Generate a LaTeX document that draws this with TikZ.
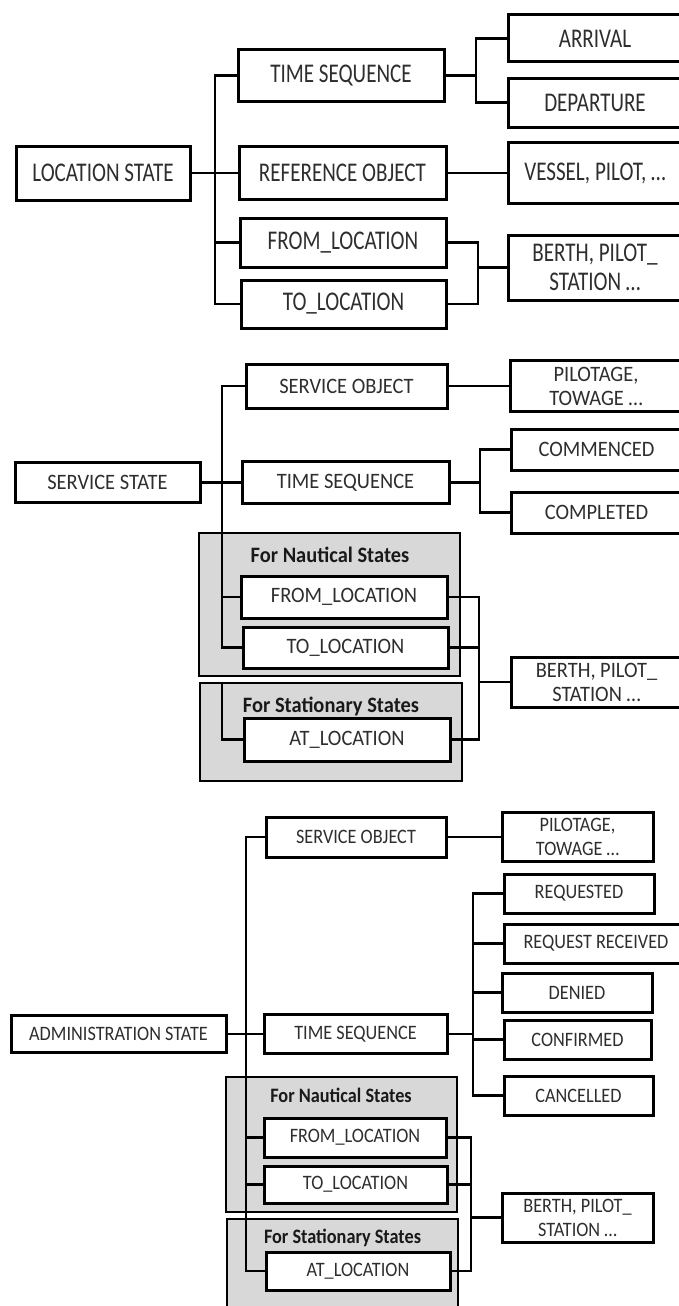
\documentclass[tikz,border=0pt]{standalone}
\usepackage{fontspec}
\newfontfamily\fonta[FakeStretch=0.78]{Carlito}
\newfontfamily\fontb[FakeStretch=0.93]{Carlito}
\newfontfamily\fontc[FakeStretch=0.89]{Carlito}
\definecolor{txt}{HTML}{2E2E2E}
\definecolor{grp}{HTML}{D8D8D8}
\pgfdeclarelayer{back}
\pgfdeclarelayer{mid}
\pgfsetlayers{back,mid,main}
\tikzset{
  box/.style={draw=black, fill=white, line width=3pt, inner sep=0pt, text=txt, align=center},
  grpbox/.style={draw=black, fill=grp, line width=2.6pt, inner sep=0pt},
  link/.style={draw=black, line width=2.8pt, line join=miter},
  secA/.style={font=\fonta\fontsize{27}{29}\selectfont},
  secB/.style={font=\fontb\fontsize{22}{24}\selectfont},
  secC/.style={font=\fontc\fontsize{20.5}{24}\selectfont},
  grptitle/.style={inner sep=0pt, text=black!90}
}
\begin{document}
\begin{tikzpicture}[x=1pt, y=-1pt]
\useasboundingbox (0,0) rectangle (678,1306);

% ---------------- Location state ----------------
\node[box, secA, minimum width=174pt, minimum height=54pt] (ls)  at (103,173)   {LOCATION STATE};
\node[box, secA, minimum width=206pt, minimum height=51pt] (ts1) at (341,75.5)  {TIME SEQUENCE};
\node[box, secA, minimum width=207pt, minimum height=53pt] (ro)  at (342.5,173) {REFERENCE OBJECT};
\node[box, secA, minimum width=206pt, minimum height=49pt] (fl1) at (343,242.5) {FROM\_LOCATION};
\node[box, secA, minimum width=205pt, minimum height=48pt] (tl1) at (343.5,304) {TO\_LOCATION};
\node[box, secA, minimum width=174pt, minimum height=47pt] (arr) at (595,38.5)  {ARRIVAL};
\node[box, secA, minimum width=174pt, minimum height=49pt] (dep) at (595,102.5) {DEPARTURE};
\node[box, secA, minimum width=174pt, minimum height=61pt] (ves) at (595,173)   {VESSEL, PILOT, …};
\node[box, secA, minimum width=174pt, minimum height=65pt] (brt1) at (595,267.5) {BERTH, PILOT\_\\STATION …};

% ---------------- Service state ----------------
\begin{pgfonlayer}{back}
\node[grpbox, minimum width=261pt, minimum height=143pt] (naut2) at (329.5,604.5) {};
\node[grpbox, minimum width=262pt, minimum height=98pt]  (stat2) at (331,732) {};
\end{pgfonlayer}
\node[grptitle, font=\fontb\fontsize{22}{24}\selectfont\bfseries] (nt2) at (330,555) {For Nautical States};
\node[grptitle, font=\fontb\fontsize{22}{24}\selectfont\bfseries] (st2) at (331,706) {For Stationary States};

\node[box, secB, minimum width=185pt, minimum height=40pt] (ss)  at (107.5,482.5) {SERVICE STATE};
\node[box, secB, minimum width=201pt, minimum height=44pt] (so2) at (346.5,386)   {SERVICE OBJECT};
\node[box, secB, minimum width=207pt, minimum height=42pt] (ts2) at (345.5,482.5) {TIME SEQUENCE};
\node[box, secB, minimum width=206pt, minimum height=42pt] (fl2) at (344,597)     {FROM\_LOCATION};
\node[box, secB, minimum width=205pt, minimum height=41pt] (tl2) at (345.5,647.5) {TO\_LOCATION};
\node[box, secB, minimum width=206pt, minimum height=43pt] (al2) at (347,739.5)   {AT\_LOCATION};
\node[box, secB, minimum width=172pt, minimum height=51pt] (pil2) at (596,386)    {PILOTAGE,\\TOWAGE …};
\node[box, secB, minimum width=171pt, minimum height=41pt] (com) at (596.5,449.5) {COMMENCED};
\node[box, secB, minimum width=171pt, minimum height=41pt] (cpl) at (596.5,512.5) {COMPLETED};
\node[box, secB, minimum width=171pt, minimum height=50pt] (brt2) at (596.5,682)  {BERTH, PILOT\_\\STATION …};

% ---------------- Administration state ----------------
\begin{pgfonlayer}{back}
\node[grpbox, minimum width=231pt, minimum height=135pt] (naut3) at (341.5,1144.5) {};
\node[grpbox, minimum width=231pt, minimum height=111pt] (stat3) at (342.5,1274.5) {};
\end{pgfonlayer}
\node[grptitle, font=\fontc\fontsize{20.5}{24}\selectfont\bfseries] (nt3) at (341,1095)   {For Nautical States};
\node[grptitle, font=\fontc\fontsize{20.5}{24}\selectfont\bfseries] (st3) at (342.5,1238) {For Stationary States};

\node[box, secC, minimum width=215pt, minimum height=37pt] (as)  at (118.5,1034) {ADMINISTRATION STATE};
\node[box, secC, minimum width=180pt, minimum height=40pt] (so3) at (356,837)    {SERVICE OBJECT};
\node[box, secC, minimum width=183pt, minimum height=39pt] (ts3) at (355.5,1034) {TIME SEQUENCE};
\node[box, secC, minimum width=182pt, minimum height=39pt] (fl3) at (355,1137.5) {FROM\_LOCATION};
\node[box, secC, minimum width=183pt, minimum height=37pt] (tl3) at (355.5,1184.5) {TO\_LOCATION};
\node[box, secC, minimum width=184pt, minimum height=38pt] (al3) at (358,1271)   {AT\_LOCATION};
\node[box, secC, minimum width=151pt, minimum height=49pt] (pil3) at (577.5,837) {PILOTAGE,\\TOWAGE …};
\node[box, secC, minimum width=150pt, minimum height=39pt] (req) at (579,893.5)  {REQUESTED};
\node[box, secC, minimum width=184pt, minimum height=39pt] (rr)  at (596,943.5)  {REQUEST RECEIVED};
\node[box, secC, minimum width=150pt, minimum height=39pt] (den) at (577,992.5)  {DENIED};
\node[box, secC, minimum width=147pt, minimum height=39pt] (conf) at (577.5,1039.5) {CONFIRMED};
\node[box, secC, minimum width=149pt, minimum height=39pt] (canc) at (578.5,1095.5) {CANCELLED};
\node[box, secC, minimum width=151pt, minimum height=49pt] (brt3) at (577.5,1217.5) {BERTH, PILOT\_\\STATION …};

% ---------------- Connectors ----------------
\coordinate (b1) at (215,0);  \coordinate (t1) at (476,0);  \coordinate (l1) at (478,0);
\coordinate (b2) at (222,0);  \coordinate (t2) at (480,0);  \coordinate (l2) at (479,0);
\coordinate (b3) at (246,0);  \coordinate (t3) at (473,0);  \coordinate (l3) at (471,0);

\begin{pgfonlayer}{mid}
% location state
\draw[link] (ls.east) -- (ls.east -| b1);
\draw[link] (ts1.west) -| (tl1.west -| b1) -- (tl1.west);
\draw[link] (ro.west) -- (ro.west -| b1);
\draw[link] (fl1.west) -- (fl1.west -| b1);
\draw[link] (ts1.east) -- (ts1.east -| t1);
\draw[link] (arr.west) -| (dep.west -| t1) -- (dep.west);
\draw[link] (ro.east) -- (ves.west);
\draw[link] (fl1.east) -| (tl1.east -| l1) -- (tl1.east);
\draw[link] (brt1.west) -- (brt1.west -| l1);
% service state
\draw[link] (ss.east) -- (ts2.west);
\draw[link] (so2.west) -| (tl2.west -| b2) -- (tl2.west);
\draw[link] (fl2.west) -- (fl2.west -| b2);
\draw[link] (stat2.north -| b2) -- (al2.west -| b2) -- (al2.west);
\draw[link] (so2.east) -- (pil2.west);
\draw[link] (ts2.east) -- (ts2.east -| t2);
\draw[link] (com.west) -| (cpl.west -| t2) -- (cpl.west);
\draw[link] (fl2.east) -| (al2.east -| l2) -- (al2.east);
\draw[link] (tl2.east) -- (tl2.east -| l2);
\draw[link] (brt2.west) -- (brt2.west -| l2);
% administration state
\draw[link] (as.east) -- (ts3.west);
\draw[link] (so3.west) -| (al3.west -| b3) -- (al3.west);
\draw[link] (fl3.west) -- (fl3.west -| b3);
\draw[link] (tl3.west) -- (tl3.west -| b3);
\draw[link] (so3.east) -- (pil3.west);
\draw[link] (ts3.east) -- (ts3.east -| t3);
\draw[link] (req.west) -| (canc.west -| t3) -- (canc.west);
\draw[link] (rr.west) -- (rr.west -| t3);
\draw[link] (den.west) -- (den.west -| t3);
\draw[link] (conf.west) -- (conf.west -| t3);
\draw[link] (fl3.east) -| (al3.east -| l3) -- (al3.east);
\draw[link] (tl3.east) -- (tl3.east -| l3);
\draw[link] (brt3.west) -- (brt3.west -| l3);
\end{pgfonlayer}
\end{tikzpicture}
\end{document}
